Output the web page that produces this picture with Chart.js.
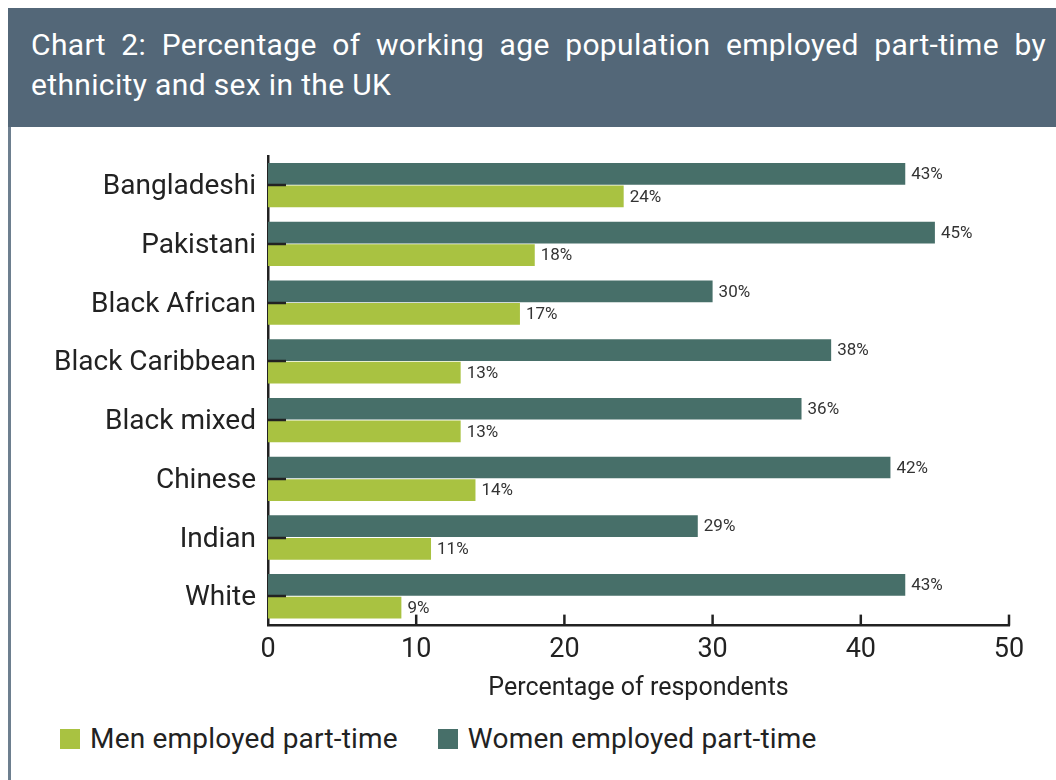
<!DOCTYPE html>
<html>
<head>
<meta charset="utf-8">
<script src="https://cdn.jsdelivr.net/npm/chart.js@4"></script>
<style>
  body { margin: 0; background: #fff; width: 1056px; height: 780px; overflow: hidden; font-family: Roboto, "Liberation Sans", sans-serif; }
  .banner {
    position: absolute; left: 8px; top: 8px; width: 1048px; height: 119px;
    background: #536778; color: #fff; box-sizing: border-box;
    padding: 17px 10px 0 23px; font-size: 30px; line-height: 40px; letter-spacing: 0.35px;
  }
  .banner .first { display: block; text-align: justify; text-align-last: justify; }
  .frame { position: absolute; left: 8px; top: 127px; width: 3px; height: 653px; background: #6d7f8f; }
  .plot { position: absolute; left: 11px; top: 127px; width: 1045px; height: 584px; }
  .legend { position: absolute; top: 722px; left: 60px; display: flex; font-size: 28px; color: #222; letter-spacing: 0.2px; }
  .legend span.item { display: flex; align-items: center; margin-right: 40px; }
  .legend span.box { width: 20px; height: 20px; margin-right: 10px; display: inline-block; }
</style>
</head>
<body>
<div class="banner"><span class="first">Chart 2: Percentage of working age population employed part-time by</span>ethnicity and sex in the UK</div>
<div class="frame"></div>
<div class="plot"><canvas id="partTimeChart"></canvas></div>
<div class="legend" id="legend"></div>
<script>
const groups = ['Bangladeshi', 'Pakistani', 'Black African', 'Black Caribbean', 'Black mixed', 'Chinese', 'Indian', 'White'];
const women = [43, 45, 30, 38, 36, 42, 29, 43];
const men = [24, 18, 17, 13, 13, 14, 11, 9];
const xTicks = [0, 10, 20, 30, 40, 50];

const womenColor = '#476f69';
const menColor = '#a9c241';
const inkColor = '#222';

// value labels at the end of each bar
const barLabels = {
  id: 'barLabels',
  afterDatasetsDraw(chart) {
    const ctx = chart.ctx;
    ctx.save();
    ctx.font = '17px Roboto, sans-serif';
    ctx.fillStyle = '#333';
    ctx.textBaseline = 'middle';
    chart.data.datasets.forEach((ds, i) => {
      chart.getDatasetMeta(i).data.forEach((bar, j) => {
        ctx.fillText(ds.data[j] + '%', bar.x + 6, bar.y + 1);
      });
    });
    ctx.restore();
  }
};

// short tick marks drawn inwards from both axes
const innerTicks = {
  id: 'innerTicks',
  afterDraw(chart) {
    const { ctx, chartArea, scales } = chart;
    ctx.save();
    ctx.strokeStyle = inkColor;
    ctx.lineWidth = 2.5;
    scales.y.ticks.forEach((t, i) => {
      const y = Math.round(scales.y.getPixelForTick(i));
      ctx.beginPath();
      ctx.moveTo(chartArea.left, y);
      ctx.lineTo(chartArea.left + 18, y);
      ctx.stroke();
    });
    xTicks.slice(1).forEach(v => {
      const x = scales.x.getPixelForValue(v);
      ctx.beginPath();
      ctx.moveTo(x, chartArea.bottom);
      ctx.lineTo(x, chartArea.bottom - 11);
      ctx.stroke();
    });
    ctx.restore();
  }
};

const ctx = document.getElementById('partTimeChart').getContext('2d');
const chart = new Chart(ctx, {
  type: 'bar',
  data: {
    labels: groups,
    datasets: [
      { label: 'Women employed part-time', data: women, backgroundColor: womenColor },
      { label: 'Men employed part-time', data: men, backgroundColor: menColor }
    ]
  },
  options: {
    indexAxis: 'y',
    responsive: true,
    maintainAspectRatio: false,
    animation: false,
    categoryPercentage: 0.77,
    barPercentage: 0.96,
    layout: { padding: { top: 28, right: 47, bottom: 7, left: 0 } },
    plugins: {
      legend: { display: false },
      tooltip: { enabled: false }
    },
    scales: {
      x: {
        min: 0,
        max: 50,
        afterBuildTicks(scale) { scale.ticks = xTicks.map(v => ({ value: v })); },
        grid: { display: false, drawTicks: false },
        border: { color: inkColor, width: 2.5 },
        ticks: { color: inkColor, padding: 8, font: { family: 'Roboto', size: 27 } },
        title: {
          display: true,
          text: 'Percentage of respondents',
          color: inkColor,
          font: { family: 'Roboto', size: 25 },
          padding: { top: 0, bottom: 0 }
        }
      },
      y: {
        afterFit(scale) { scale.width = 257; },
        grid: { display: false, drawTicks: false },
        border: { color: inkColor, width: 2.5 },
        ticks: { color: inkColor, padding: 12, labelOffset: 2, font: { family: 'Roboto', size: 28 } }
      }
    }
  },
  plugins: [barLabels, innerTicks]
});

// legend lists men first, as in the printed key
const legend = document.getElementById('legend');
[...chart.data.datasets].reverse().forEach(ds => {
  const item = document.createElement('span');
  item.className = 'item';
  item.innerHTML = '<span class="box" style="background:' + ds.backgroundColor + '"></span>' + ds.label;
  legend.appendChild(item);
});
</script>
</body>
</html>
